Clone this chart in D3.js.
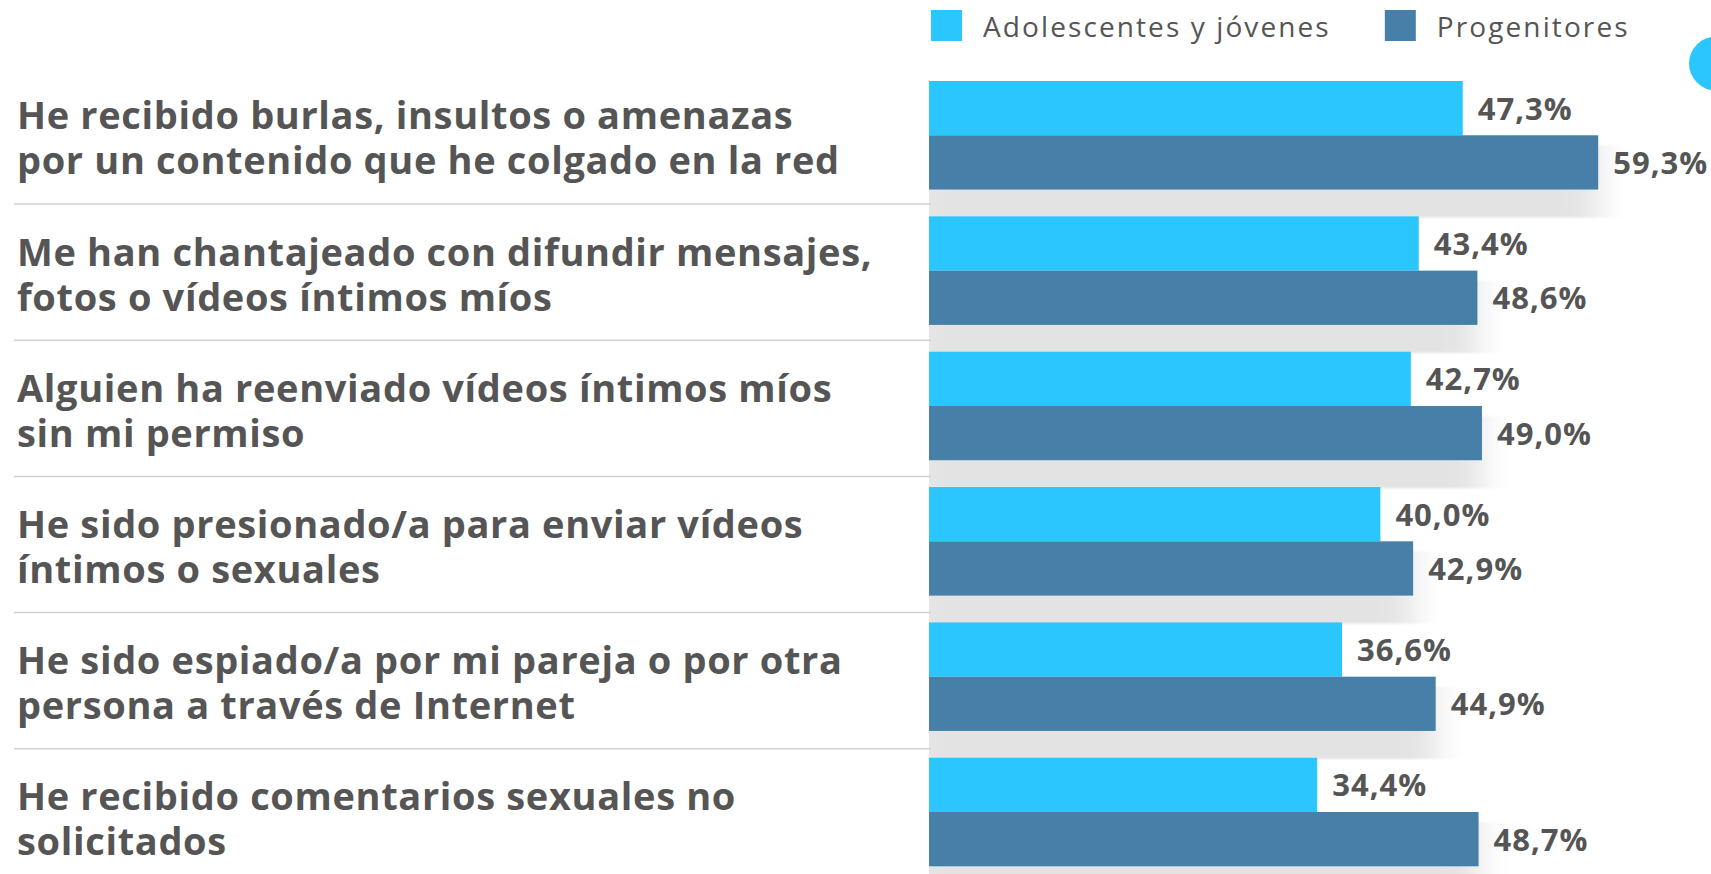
<!DOCTYPE html>
<html>
  <head>
    <meta charset="utf-8">
    <title>Ciberviolencia</title>
    <script src="https://d3js.org/d3.v7.min.js"></script>
    <style>
      body { margin: 0; background: #fff; }
      svg { display: block; }
      .cat { font-family: "Open Sans", sans-serif; font-weight: 700; font-size: 38px; letter-spacing: 0.65px; fill: #555; }
      .val { font-family: "Open Sans", sans-serif; font-weight: 700; font-size: 31px; letter-spacing: 1px; fill: #555; }
      .leg { font-family: "Open Sans", sans-serif; font-weight: 500; font-size: 28px; letter-spacing: 2.1px; fill: #555; }
    </style>
  </head>
  <body>
    <svg width="1711" height="874"></svg>

    <script>
      // data
      let categories = [
        ["He recibido burlas, insultos o amenazas", "por un contenido que he colgado en la red"],
        ["Me han chantajeado con difundir mensajes,", "fotos o vídeos íntimos míos"],
        ["Alguien ha reenviado vídeos íntimos míos", "sin mi permiso"],
        ["He sido presionado/a para enviar vídeos", "íntimos o sexuales"],
        ["He sido espiado/a por mi pareja o por otra", "persona a través de Internet"],
        ["He recibido comentarios sexuales no", "solicitados"]
      ];
      let series = ["Adolescentes y jóvenes", "Progenitores"];
      let jovenes = [47.3, 43.4, 42.7, 40.0, 36.6, 34.4];
      let progenitores = [59.3, 48.6, 49.0, 42.9, 44.9, 48.7];
      let colors = ["#2cc6fe", "#4680a8"];

      let rows = categories.map(function(c, i) {
        return { key: c[0], lines: c, values: [jovenes[i], progenitores[i]] };
      });

      let svg = d3.select("svg");
      let fmt = function(v) { return d3.format(".1f")(v).replace(".", ",") + "%"; };

      // scales
      let x = d3.scaleLinear().domain([0, 100]).range([929, 2057.5]);
      let y = d3.scaleBand().domain(rows.map(d => d.key))
        .range([81, 866.3]).paddingInner(0.198).paddingOuter(0).align(0);
      let ySub = d3.scaleBand().domain(series).range([0, y.bandwidth()]);
      let yRow = d3.scaleBand().domain(rows.map(d => d.key)).range([67.8, 67.8 + 6 * 136.2]);

      // soft shadow under each pair of bars
      let defs = svg.append("defs");
      let blur = defs.append("filter").attr("id", "soft")
        .attr("x", "-10%").attr("width", "120%");
      blur.append("feGaussianBlur").attr("stdDeviation", "16 1");
      defs.append("clipPath").attr("id", "rightside")
        .append("rect").attr("x", 929).attr("y", 0).attr("width", 800).attr("height", 874);

      svg.append("g").attr("clip-path", "url(#rightside)")
        .selectAll("rect")
        .data(rows)
        .enter().append("rect")
          .attr("x", x(0) - 20)
          .attr("y", d => y(d.key) + ySub(series[1]) + 10)
          .attr("width", d => x(d.values[1]) - x(0) + 20)
          .attr("height", ySub.bandwidth() + 18)
          .attr("fill", "#e3e3e3")
          .attr("filter", "url(#soft)");

      // separators
      svg.append("g").selectAll("line")
        .data(rows.slice(0, -1))
        .enter().append("line")
          .attr("x1", 14).attr("x2", 931)
          .attr("y1", d => yRow(d.key) + yRow.bandwidth())
          .attr("y2", d => yRow(d.key) + yRow.bandwidth())
          .attr("stroke", "#d2d2d2")
          .attr("stroke-width", 1.5);

      // bars
      let groups = svg.append("g").selectAll("g")
        .data(rows)
        .enter().append("g")
          .attr("transform", d => "translate(0," + y(d.key) + ")");

      groups.selectAll("rect")
        .data(d => d.values.map((v, j) => ({ s: series[j], v: v, j: j })))
        .enter().append("rect")
          .attr("x", x(0))
          .attr("y", d => ySub(d.s))
          .attr("width", d => x(d.v) - x(0))
          .attr("height", ySub.bandwidth())
          .attr("fill", d => colors[d.j]);

      groups.selectAll("text")
        .data(d => d.values.map((v, j) => ({ s: series[j], v: v, j: j })))
        .enter().append("text")
          .attr("class", "val")
          .attr("x", d => x(d.v) + 15)
          .attr("y", d => ySub(d.s) + ySub.bandwidth() / 2 + 11.5)
          .text(d => fmt(d.v));

      // category labels
      let cats = svg.append("g").selectAll("text")
        .data(rows)
        .enter().append("text")
          .attr("class", "cat")
          .attr("x", 17)
          .attr("y", d => yRow(d.key) + 61.5);
      cats.selectAll("tspan")
        .data(d => d.lines)
        .enter().append("tspan")
          .attr("x", 17)
          .attr("dy", (d, i) => i === 0 ? 0 : 45)
          .text(d => d);

      // legend
      let legend = svg.append("g");
      let lx = 931;
      series.forEach(function(s, i) {
        legend.append("rect")
          .attr("x", lx).attr("y", 10)
          .attr("width", 31).attr("height", 31)
          .attr("fill", colors[i]);
        let t = legend.append("text")
          .attr("class", "leg")
          .attr("x", lx + 52).attr("y", 36.5)
          .text(s);
        lx = lx + 52 + t.node().getComputedTextLength() + 54;
      });

      // decorative dot at the right edge
      svg.append("circle")
        .attr("cx", 1716).attr("cy", 63.5).attr("r", 27)
        .attr("fill", colors[0]);
    </script>
  </body>
</html>
